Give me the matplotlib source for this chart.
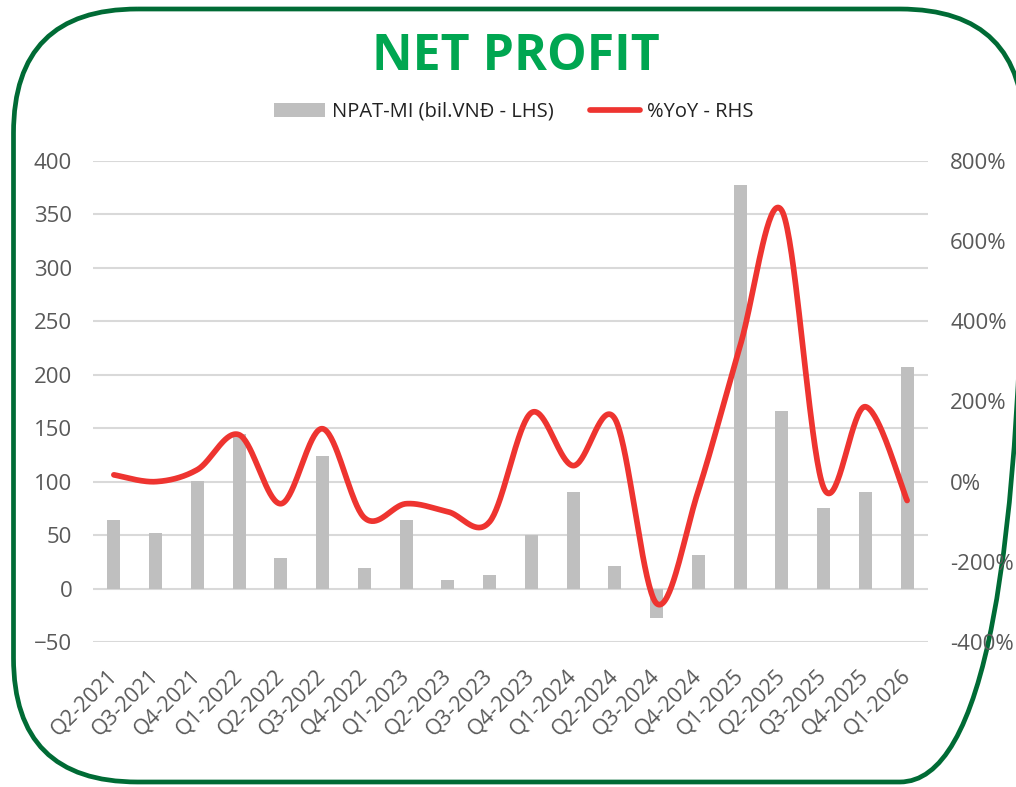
import numpy as np
import matplotlib
matplotlib.use("Agg")
import matplotlib.pyplot as plt
from matplotlib.patches import FancyBboxPatch
from matplotlib.ticker import FuncFormatter

## Dati
quarters = ["Q2-2021", "Q3-2021", "Q4-2021", "Q1-2022", "Q2-2022", "Q3-2022", "Q4-2022",
            "Q1-2023", "Q2-2023", "Q3-2023", "Q4-2023", "Q1-2024", "Q2-2024", "Q3-2024",
            "Q4-2024", "Q1-2025", "Q2-2025", "Q3-2025", "Q4-2025", "Q1-2026"]
npat = [64, 52, 101, 145, 29, 124, 19, 64, 8, 13, 50, 90, 21, -28, 31, 378, 166, 75, 90, 207]
yoy = [17, 0, 30, 117, -55, 132, -90, -55, -75, -100, 172, 40, 157, -304, -22, 339, 676, -15, 187, -47]

GREY_TXT = "#595959"
plt.rcParams["font.family"] = ["Open Sans", "DejaVu Sans"]


def smooth_line(x, y, n=40):
    # curva tipo "linea smussata" di Excel: bezier cubica, tensione 1/6
    x = np.asarray(x, float)
    y = np.asarray(y, float)
    px = np.concatenate([[x[0]], x, [x[-1]]])
    py = np.concatenate([[y[0]], y, [y[-1]]])
    t = np.linspace(0, 1, n)[:, None]
    xs, ys = [], []
    for i in range(1, len(px) - 2):
        p0 = np.array([px[i], py[i]])
        p3 = np.array([px[i + 1], py[i + 1]])
        c1 = p0 + (np.array([px[i + 1], py[i + 1]]) - np.array([px[i - 1], py[i - 1]])) / 6
        c2 = p3 - (np.array([px[i + 2], py[i + 2]]) - np.array([px[i], py[i]])) / 6
        pts = ((1 - t) ** 3) * p0 + 3 * ((1 - t) ** 2) * t * c1 + 3 * (1 - t) * t ** 2 * c2 + t ** 3 * p3
        xs.append(pts[:, 0])
        ys.append(pts[:, 1])
    return np.concatenate(xs), np.concatenate(ys)


fig = plt.figure(figsize=(10.16, 7.87), dpi=100)

## cornice verde arrotondata (il lato destro esce dall'immagine)
bg = fig.add_axes([0, 0, 1, 1], zorder=-1)
bg.set_xlim(0, 1016)
bg.set_ylim(787, 0)
bg.axis("off")
bg.add_patch(FancyBboxPatch((13.5, 9), 1024 - 13.5, 782 - 9,
                            boxstyle="round,pad=0,rounding_size=124",
                            ec="#006B35", fc="none", lw=3.4))

ax = fig.add_axes([93 / 1016, 1 - 642 / 787, 835 / 1016, 481 / 787])
ax.patch.set_alpha(0)
xpos = np.arange(len(quarters))
bars = ax.bar(xpos, npat, width=0.31, color="#BFBFBF", zorder=2, label="NPAT-MI (bil.VNĐ - LHS)")
ax.set_xlim(-0.5, len(quarters) - 0.5)
ax.set_ylim(-50, 400)
ax.set_yticks(np.arange(-50, 401, 50))
ax.yaxis.grid(True, color="#D9D9D9", lw=1.5)
ax.set_axisbelow(True)
ax.set_xticks(xpos)
ax.set_xticklabels(quarters, rotation=45, ha="right", va="center", rotation_mode="anchor")
ax.tick_params(axis="y", length=0, labelsize=16, labelcolor=GREY_TXT, pad=15)
ax.tick_params(axis="x", length=0, labelsize=15.5, labelcolor=GREY_TXT, pad=22)
for s in ax.spines.values():
    s.set_visible(False)

ax2 = ax.twinx()
sx, sy = smooth_line(xpos, yoy)
line, = ax2.plot(sx, sy, color="#EE3430", lw=4.1, solid_capstyle="round", label="%YoY - RHS")
ax2.set_ylim(-400, 800)
ax2.set_yticks(np.arange(-400, 801, 200))
ax2.yaxis.set_major_formatter(FuncFormatter(lambda v, p: "{:.0f}%".format(v)))
ax2.tick_params(axis="y", length=0, labelsize=16, labelcolor=GREY_TXT, pad=16)
for s in ax2.spines.values():
    s.set_visible(False)

fig.text(516 / 1016, 1 - 57 / 787, "NET PROFIT", ha="center", va="center",
         fontsize=36, fontweight="bold", color="#00A651")

fig.legend([bars, line], ["NPAT-MI (bil.VNĐ - LHS)", "%YoY - RHS"], ncol=2,
           loc="center", bbox_to_anchor=(514 / 1016, 1 - 112 / 787), frameon=False,
           fontsize=14.5, labelcolor="#222222", handlelength=2.5, handleheight=0.7,
           handletextpad=0.35, columnspacing=1.8)

fig.savefig("out.png", dpi=100)
